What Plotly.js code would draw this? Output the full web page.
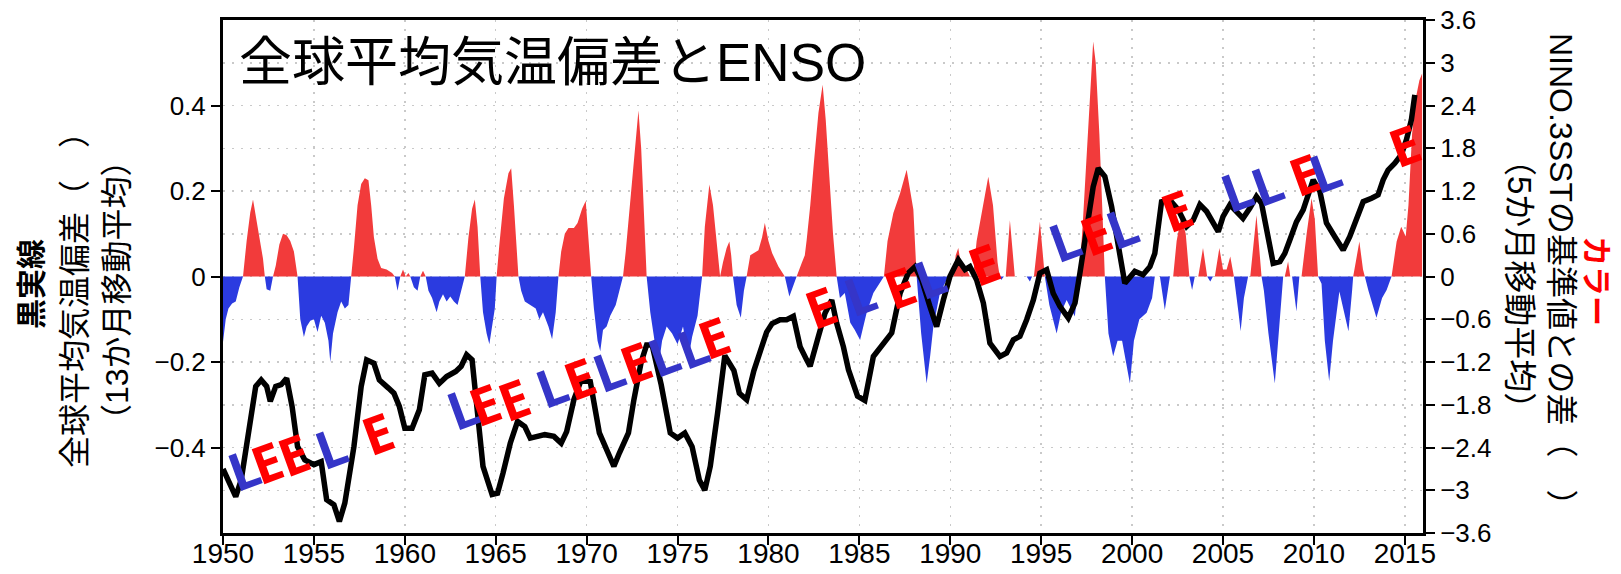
<!DOCTYPE html>
<html><head><meta charset="utf-8">
<script src="https://cdn.plot.ly/plotly-3.0.1.min.js"></script>
<style>html,body{margin:0;padding:0;background:#fff;}#chart{width:1621px;height:574px;}</style>
</head><body><div id="chart"></div>
<script>
// ---- Global mean temperature anomaly, 13-month running mean (left axis, degC) ----
const tempYears = [
 1950.0,1950.4,1950.7,1951.0,1951.4,1951.8,1952.1,1952.4,1952.6,1952.9,1953.2,1953.5,1953.8,1954.1,1954.5,1955.0,1955.4,1955.7,1956.1,1956.4,1956.7,1957.2,1957.6,1957.9,1958.3,1958.6,1959.1,1959.4,1959.7,
 1960.0,1960.4,1960.8,1961.1,1961.5,1961.9,1962.3,1962.8,1963.1,1963.4,1963.7,1964.0,1964.3,1964.8,1965.1,1965.4,1965.8,1966.2,1966.6,1966.9,1967.3,1967.7,1968.2,1968.6,1968.9,1969.3,1969.7,
 1970.2,1970.7,1971.1,1971.5,1971.8,1972.3,1972.6,1973.0,1973.3,1973.6,1974.1,1974.6,1975.0,1975.4,1975.8,1976.2,1976.5,1976.8,1977.2,1977.6,1978.1,1978.4,1978.8,1979.2,1979.9,
 1980.2,1980.64,1981.0,1981.37,1981.74,1982.1,1982.29,1982.75,1983.11,1983.48,1983.75,1984.12,1984.4,1984.9,1985.3,1985.77,1986.32,1986.78,1987.24,1987.69,1988.06,1988.43,1988.88,1989.25,1989.62,
 1989.98,1990.44,1990.81,1991.08,1991.45,1991.82,1992.18,1992.73,1993.1,1993.47,1993.83,1994.2,1994.57,1994.93,1995.3,1995.66,1996.03,1996.49,1996.86,1997.13,1997.5,1997.86,1998.14,1998.5,1998.87,1999.24,1999.6,
 2000.15,2000.6,2000.98,2001.25,2001.62,2002.08,2002.54,2003.0,2003.36,2003.73,2004.1,2004.37,2004.74,2005.0,2005.38,2005.65,2006.1,2006.48,2006.84,2007.12,2007.39,2007.76,2008.13,2008.4,2008.68,2009.04,2009.41,2009.78,
 2009.96,2010.33,2010.69,2011.15,2011.61,2011.97,2012.34,2012.71,2013.17,2013.53,2013.81,2014.08,2014.45,2014.81,2015.09,2015.36,2015.55
];
const tempValues = [
 -0.45,-0.49,-0.515,-0.476,-0.366,-0.257,-0.242,-0.257,-0.292,-0.257,-0.253,-0.238,-0.304,-0.398,-0.429,-0.44,-0.433,-0.522,-0.534,-0.573,-0.53,-0.398,-0.257,-0.195,-0.203,-0.242,-0.261,-0.273,-0.304,
 -0.355,-0.355,-0.312,-0.23,-0.226,-0.25,-0.234,-0.222,-0.21,-0.183,-0.195,-0.32,-0.444,-0.51,-0.507,-0.46,-0.39,-0.339,-0.351,-0.378,-0.374,-0.37,-0.374,-0.39,-0.363,-0.288,-0.242,
 -0.246,-0.366,-0.405,-0.444,-0.413,-0.366,-0.288,-0.2,-0.16,-0.16,-0.253,-0.366,-0.378,-0.366,-0.398,-0.476,-0.5,-0.444,-0.32,-0.185,-0.22,-0.273,-0.288,-0.22,-0.13,
 -0.11,-0.101,-0.101,-0.093,-0.164,-0.195,-0.21,-0.14,-0.086,-0.055,-0.109,-0.164,-0.218,-0.28,-0.29,-0.187,-0.156,-0.132,-0.039,0.008,0.023,-0.008,-0.07,-0.117,-0.055,
 0,0.039,0.016,0.023,-0.008,-0.062,-0.156,-0.187,-0.179,-0.148,-0.14,-0.101,-0.055,0.008,0.016,-0.039,-0.07,-0.097,-0.062,0.008,0.117,0.21,0.253,0.234,0.164,0.07,-0.016,
 0.012,0.004,0.023,0.054,0.175,0.179,0.156,0.117,0.132,0.168,0.152,0.132,0.105,0.14,0.168,0.156,0.136,0.16,0.187,0.171,0.109,0.031,0.035,0.054,0.086,0.128,0.156,0.21,
 0.226,0.199,0.125,0.093,0.062,0.093,0.132,0.175,0.183,0.191,0.226,0.249,0.265,0.285,0.32,0.366,0.425
];

// ---- NINO.3 SST deviation, 5-month running mean (right axis, degC) ----
const ninoYears = [
 1950.0,1950.15,1950.3,1950.5,1950.7,1950.9,1951.1,1951.3,1951.5,1951.65,1951.8,1952.0,1952.2,1952.3,1952.4,1952.6,1952.75,1952.9,1953.1,1953.3,1953.5,1953.7,1953.9,1954.1,1954.25,1954.45,1954.6,1954.8,1955.0,1955.2,1955.4,1955.6,1955.8,1955.9,1956.05,1956.3,1956.5,1956.7,1956.9,1957.05,1957.2,1957.4,1957.6,1957.8,1958.0,1958.15,1958.3,1958.5,1958.7,1959.0,1959.3,1959.45,1959.6,1959.75,1959.9,
 1960.05,1960.2,1960.3,1960.5,1960.7,1960.85,1961.0,1961.15,1961.3,1961.5,1961.75,1961.9,1962.1,1962.3,1962.5,1962.7,1962.9,1963.1,1963.3,1963.5,1963.7,1963.85,1964.0,1964.15,1964.3,1964.5,1964.65,1964.8,1964.95,1965.05,1965.2,1965.45,1965.7,1965.85,1966.0,1966.15,1966.25,1966.4,1966.6,1966.9,1967.2,1967.4,1967.6,1967.9,1968.1,1968.3,1968.45,1968.6,1968.8,1969.0,1969.3,1969.5,1969.75,1969.95,
 1970.1,1970.25,1970.4,1970.6,1970.75,1970.9,1971.1,1971.3,1971.6,1971.85,1972.0,1972.15,1972.35,1972.55,1972.72,1972.85,1973.0,1973.15,1973.3,1973.5,1973.75,1973.95,1974.15,1974.4,1974.7,1975.0,1975.3,1975.6,1975.8,1976.1,1976.35,1976.5,1976.75,1976.95,1977.15,1977.34,1977.5,1977.7,1977.85,1977.95,1978.05,1978.25,1978.48,1978.65,1978.8,1979.0,1979.2,1979.45,1979.65,1979.8,
 1980.0,1980.2,1980.55,1980.8,1980.9,1981.15,1981.4,1981.55,1981.83,1982.0,1982.1,1982.3,1982.5,1982.75,1982.98,1983.15,1983.35,1983.55,1983.75,1983.93,1984.2,1984.5,1984.75,1985.04,1985.4,1985.77,1986.2,1986.35,1986.55,1986.87,1987.24,1987.6,1987.97,1988.15,1988.4,1988.7,1988.9,1989.07,1989.43,1989.8,1989.95,
 1990.17,1990.3,1990.44,1990.6,1990.9,1991.08,1991.25,1991.45,1991.73,1992.09,1992.35,1992.6,1992.72,1992.8,1992.95,1993.05,1993.28,1993.45,1993.55,1994.2,1994.38,1994.5,1994.6,1994.93,1995.1,1995.2,1995.45,1995.85,1996.1,1996.4,1996.85,1997.0,1997.1,1997.3,1997.5,1997.7,1997.86,1998.0,1998.2,1998.4,1998.5,1998.7,1998.96,1999.2,1999.45,1999.88,
 2000.1,2000.4,2000.8,2001.1,2001.25,2001.53,2001.8,2002.08,2002.26,2002.45,2002.7,2002.95,2003.15,2003.3,2003.45,2003.64,2003.9,2004.13,2004.3,2004.45,2004.55,2004.8,2005.0,2005.2,2005.4,2005.6,2005.85,2005.97,2006.15,2006.38,2006.5,2006.84,2007.12,2007.25,2007.5,2007.85,2008.05,2008.31,2008.4,2008.58,2008.7,2008.8,2009.04,2009.2,2009.32,2009.6,2009.87,2010.05,
 2010.23,2010.42,2010.6,2010.84,2011.05,2011.4,2011.65,2011.9,2012.1,2012.16,2012.3,2012.5,2012.7,2012.8,2013.0,2013.44,2013.75,2014.0,2014.2,2014.27,2014.55,2014.8,2015.05,2015.2,2015.4,2015.6,2015.8,2015.95
];
const ninoValues = [
 -0.92,-0.6,-0.45,-0.38,-0.35,-0.15,0,0.5,0.9,1.08,0.85,0.6,0.25,0,-0.18,-0.2,0,0.15,0.45,0.6,0.58,0.5,0.35,0,-0.6,-0.85,-0.7,-0.62,-0.6,-0.78,-0.55,-0.65,-0.9,-1.2,-0.8,-0.5,-0.35,-0.45,-0.4,0,0.4,1.0,1.3,1.38,1.35,1.0,0.55,0.25,0.12,0.1,0.05,0,-0.2,0,0.1,
 0,0.05,0,-0.15,-0.2,0,0.08,0,-0.2,-0.3,-0.5,-0.35,-0.25,-0.35,-0.28,-0.35,-0.4,-0.2,0,0.55,0.95,1.08,0.7,0,-0.5,-0.8,-0.95,-0.7,-0.45,0,0.45,1.1,1.45,1.52,1.0,0.3,0,-0.2,-0.35,-0.4,-0.45,-0.6,-0.5,-0.7,-0.88,-0.5,0,0.35,0.6,0.68,0.68,0.75,0.95,1.06,
 0.5,0,-0.45,-0.9,-1.05,-0.75,-0.7,-0.55,-0.4,-0.15,0,0.35,0.9,1.45,1.95,2.33,1.8,0.8,0,-0.5,-0.9,-1.27,-0.9,-0.7,-0.8,-0.95,-0.7,-1.15,-0.85,-0.55,0,0.7,1.29,1.0,0.5,0,0.2,0.4,0.49,0.3,0,-0.4,-0.58,-0.2,0,0.3,0.33,0.37,0.55,0.75,
 0.5,0.33,0.14,0.05,0,-0.28,-0.1,0,0.19,0.3,0.51,1.0,1.6,2.3,2.69,2.2,1.4,0.6,0,-0.3,-0.23,-0.65,-0.75,-0.89,-0.51,-0.23,-0.05,0,0.5,0.89,1.17,1.5,0.94,0,-0.8,-1.5,-1.1,-0.7,-0.23,-0.05,0,
 0,0.3,0.4,0.15,0.1,0,0,0.5,0.89,1.4,1.0,0.2,0,-0.05,0,0,0.79,0.3,0,0,-0.07,0,0,0.77,0.2,0,-0.4,-0.8,-0.5,-0.33,-0.56,-0.2,0,0.8,1.7,2.7,3.3,3.0,2.0,0.7,0,-0.8,-1.12,-0.9,-0.9,-1.5,
 -0.9,-0.6,-0.51,-0.3,0,0,-0.47,0,0,0.5,0.84,0.6,0,-0.19,0,0,0.4,0,-0.07,0,0,0.4,0.1,0.1,0.28,0,-0.5,-0.77,-0.3,0,0,0.86,0,-0.2,-0.8,-1.5,-0.9,0,0,0.21,0,0,-0.49,0,0,0.6,1.1,0.8,
 0,-0.1,-0.9,-1.47,-0.9,-0.21,-0.5,-0.77,-0.2,0,0.2,0.49,0.1,0,-0.2,-0.58,-0.3,-0.19,-0.05,0,0.49,0.7,0.56,1.0,2.0,2.5,2.75,2.85
];

// ---- ENSO event labels (L = La Nina, E = El Nino), placed by year / temperature level ----
const eventLabels = ['L','E','E','L','E', 'L','E','E','L','E','L','E','L','L','E', 'E','L','E','L','E', 'L','E','L','E','L','L','E','L','E'];
const eventYears  = [1951.1,1952.4,1953.9,1955.9,1958.5, 1963.15,1964.4,1966.0,1968.05,1969.6,1971.2,1972.7,1974.2,1975.8,1976.97, 1982.84,1985.03,1987.23,1988.88,1991.8, 1996.3,1997.96,1999.42,2002.45,2005.75,2007.4,2009.5,2010.6,2015.0];
const eventLevels = [-0.45,-0.432,-0.415,-0.397,-0.366, -0.307,-0.296,-0.285,-0.255,-0.237,-0.218,-0.199,-0.183,-0.164,-0.14, -0.07,-0.039,-0.023,0.0,0.031, 0.086,0.101,0.117,0.156,0.203,0.218,0.242,0.249,0.308];

const xTickYears = [1950,1955,1960,1965,1970,1975,1980,1985,1990,1995,2000,2005,2010,2015];
const leftTicks  = [-0.4,-0.2,0,0.2,0.4];
const rightTicks = [-3.6,-3,-2.4,-1.8,-1.2,-0.6,0,0.6,1.2,1.8,2.4,3,3.6];

const chartTitle = '全球平均気温偏差とENSO';
const leftTitleLines  = ['<b>黒実線</b>', '全球平均気温偏差（　）', '（13か月移動平均）'];
const rightTitleLines = ['<b>カラー</b>', 'NINO.3SSTの基準値との差（　）', '（5か月移動平均）'];

// ---- layout constants ----
const W = 1621, H = 574, M = {l:223, r:198, t:20, b:41};
const PW = W - M.l - M.r, PH = H - M.t - M.b;
const px = x => (x - M.l) / PW;
const py = y => (H - M.b - y) / PH;
const JP = 'Liberation Sans, Arial, Noto Sans CJK JP, sans-serif';
const RED = '#f23b3b', BLUE = '#2b3be0';

const posVals = ninoValues.map(v => Math.max(v, 0));
const negVals = ninoValues.map(v => Math.min(v, 0));

const traces = [
  {x: ninoYears, y: posVals, type:'scatter', mode:'lines', fill:'tozeroy', fillcolor: RED,
   line:{width:0, color: RED}, xaxis:'x', yaxis:'y', hoverinfo:'skip'},
  {x: ninoYears, y: negVals, type:'scatter', mode:'lines', fill:'tozeroy', fillcolor: BLUE,
   line:{width:0, color: BLUE}, xaxis:'x', yaxis:'y', hoverinfo:'skip'},
  {x: tempYears, y: tempValues, type:'scatter', mode:'lines', line:{color:'#000', width:5.5},
   xaxis:'x', yaxis:'y2', hoverinfo:'skip'}
];

const annotations = [];
annotations.push({xref:'paper', yref:'paper', x: px(237), y: py(62), xanchor:'left', yanchor:'middle',
  text: chartTitle, showarrow:false, font:{family: JP, size:53, color:'#000'}});
const leftX = [31, 75, 117], leftY = [284, 292, 290];
leftTitleLines.forEach((t,i) => annotations.push({xref:'paper', yref:'paper', x: px(leftX[i]), y: py(leftY[i]),
  xanchor:'center', yanchor:'middle', textangle:-90, text:t, showarrow:false,
  font:{family: JP, size: i===0 ? 30 : 32, color:'#000'}}));
const rightX = [1597, 1561, 1520], rightY = [281, 277, 284];
rightTitleLines.forEach((t,i) => annotations.push({xref:'paper', yref:'paper', x: px(rightX[i]), y: py(rightY[i]),
  xanchor:'center', yanchor:'middle', textangle:90, text:t, showarrow:false,
  font:{family: JP, size: i===0 ? 30 : (i===2 ? 33 : 32), color: i===0 ? '#ff0000' : '#000'}}));
eventLabels.forEach((lab,i) => annotations.push({xref:'x', yref:'y2', x: eventYears[i], y: eventLevels[i],
  xanchor:'center', yanchor:'middle', textangle:-20, text:'<b>'+lab+'</b>', showarrow:false,
  font:{family:'Open Sans, Liberation Sans, sans-serif', size:52, color: lab==='E' ? '#ff0000' : '#3535c8'}}));

const gridStyle = {showgrid:true, gridcolor:'#c9c9c9', gridwidth:1.5, griddash:'2px,7px'};
const layout = {
  width: W, height: H, margin: M, paper_bgcolor:'#fff', plot_bgcolor:'#fff', showlegend:false,
  xaxis: Object.assign({range:[1950,2016], tickvals: xTickYears, showline:true, linewidth:3, linecolor:'#000',
    mirror:true, ticks:'outside', ticklen:9, tickwidth:2, tickcolor:'#000', zeroline:false, ticklabelstandoff:-16,
    tickfont:{family:'Liberation Sans, Arial, sans-serif', size:28, color:'#000'}}, gridStyle),
  yaxis: Object.assign({side:'right', range:[-3.6,3.6], tickvals: rightTicks, showline:true, linewidth:3, linecolor:'#000',
    ticks:'outside', ticklen:9, tickwidth:2, tickcolor:'#000', zeroline:false,
    tickfont:{family:'Liberation Sans, Arial, sans-serif', size:26, color:'#000'}}, gridStyle),
  yaxis2: {overlaying:'y', side:'left', range:[-0.6,0.6], tickvals: leftTicks, showgrid:false, showline:true,
    linewidth:3, linecolor:'#000', ticks:'outside', ticklen:9, tickwidth:2, tickcolor:'#000', zeroline:false,
    tickfont:{family:'Liberation Sans, Arial, sans-serif', size:26, color:'#000'}},
  annotations: annotations
};
Plotly.newPlot('chart', traces, layout, {staticPlot:true, displayModeBar:false});
</script></body></html>
